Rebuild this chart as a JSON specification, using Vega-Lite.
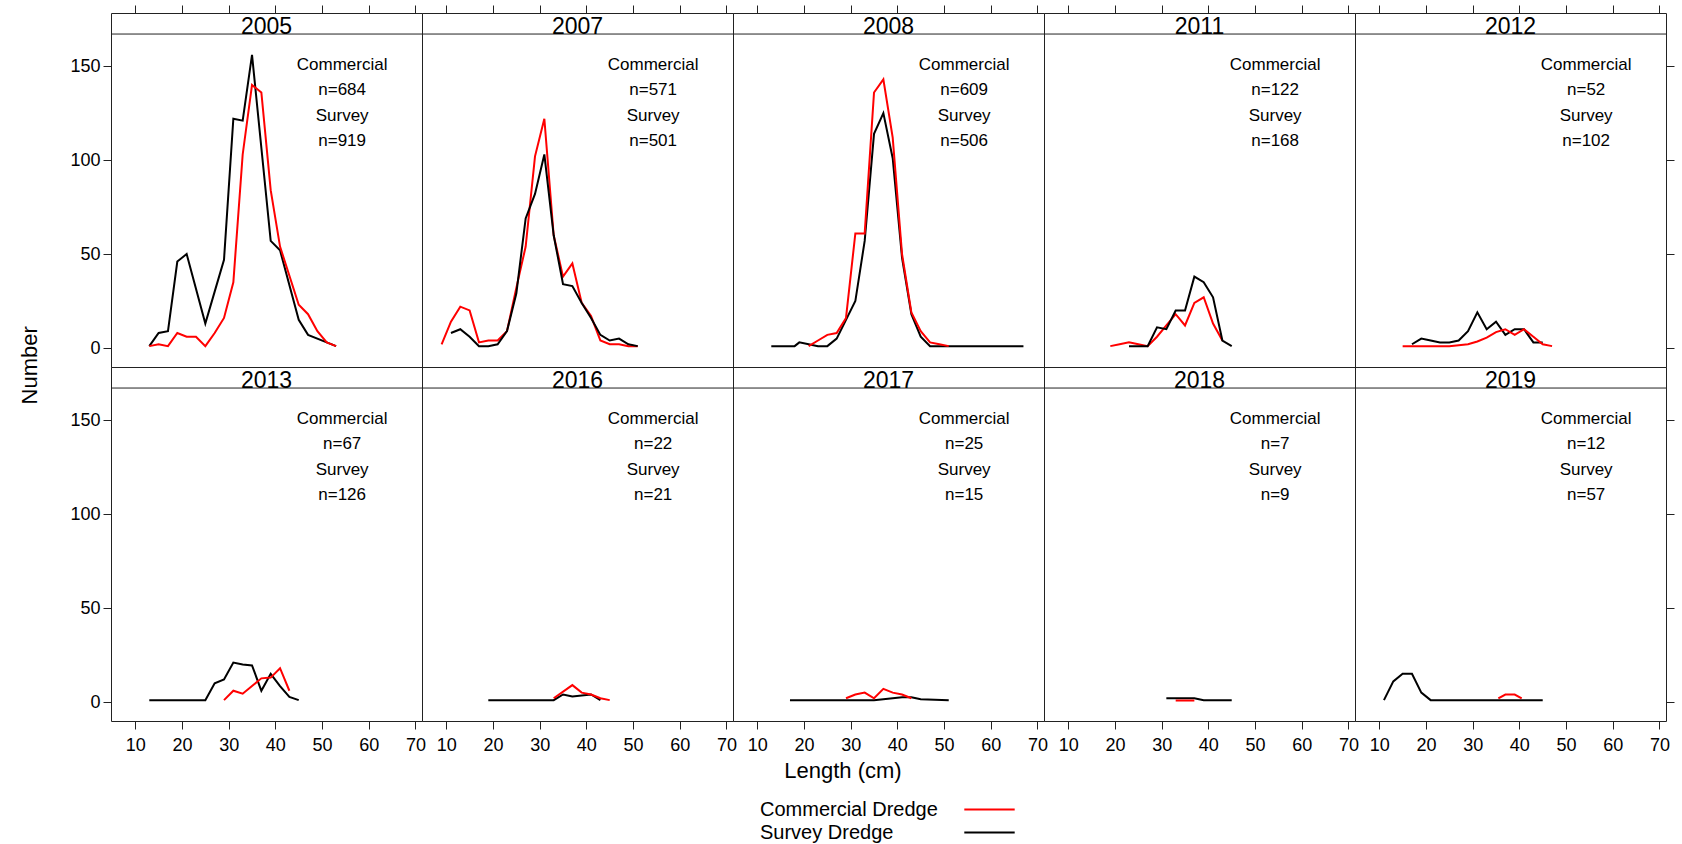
{
  "$schema": "https://vega.github.io/schema/vega-lite/v6.json",
  "background": "white",
  "padding": {"left": 18, "top": 4, "right": 5, "bottom": 0},
  "config": {
    "font": "Liberation Sans",
    "view": {"stroke": "#222222", "strokeWidth": 1},
    "axis": {"grid": false, "domain": false, "tickColor": "#222222", "labelColor": "black", "titleColor": "black", "titleFontWeight": "normal"},
    "legend": {"labelColor": "black"}
  },
  "data": {"values": [
      {"year": "2005", "commercialN": "n=684", "surveyN": "n=919"},
      {"year": "2007", "commercialN": "n=571", "surveyN": "n=501"},
      {"year": "2008", "commercialN": "n=609", "surveyN": "n=506"},
      {"year": "2011", "commercialN": "n=122", "surveyN": "n=168"},
      {"year": "2012", "commercialN": "n=52", "surveyN": "n=102"},
      {"year": "2013", "commercialN": "n=67", "surveyN": "n=126"},
      {"year": "2016", "commercialN": "n=22", "surveyN": "n=21"},
      {"year": "2017", "commercialN": "n=25", "surveyN": "n=15"},
      {"year": "2018", "commercialN": "n=7", "surveyN": "n=9"},
      {"year": "2019", "commercialN": "n=12", "surveyN": "n=57"},

      {"year": "2005", "gear": "Survey Dredge", "length": 13, "number": 1},
      {"year": "2005", "gear": "Survey Dredge", "length": 15, "number": 8},
      {"year": "2005", "gear": "Survey Dredge", "length": 17, "number": 9},
      {"year": "2005", "gear": "Survey Dredge", "length": 19, "number": 46},
      {"year": "2005", "gear": "Survey Dredge", "length": 21, "number": 50},
      {"year": "2005", "gear": "Survey Dredge", "length": 25, "number": 13},
      {"year": "2005", "gear": "Survey Dredge", "length": 27, "number": 30},
      {"year": "2005", "gear": "Survey Dredge", "length": 29, "number": 47},
      {"year": "2005", "gear": "Survey Dredge", "length": 31, "number": 122},
      {"year": "2005", "gear": "Survey Dredge", "length": 33, "number": 121},
      {"year": "2005", "gear": "Survey Dredge", "length": 35, "number": 156},
      {"year": "2005", "gear": "Survey Dredge", "length": 39, "number": 57},
      {"year": "2005", "gear": "Survey Dredge", "length": 41, "number": 52},
      {"year": "2005", "gear": "Survey Dredge", "length": 45, "number": 15},
      {"year": "2005", "gear": "Survey Dredge", "length": 47, "number": 7},
      {"year": "2005", "gear": "Survey Dredge", "length": 51, "number": 3},
      {"year": "2005", "gear": "Survey Dredge", "length": 53, "number": 1},
      {"year": "2005", "gear": "Commercial Dredge", "length": 13, "number": 1},
      {"year": "2005", "gear": "Commercial Dredge", "length": 15, "number": 2},
      {"year": "2005", "gear": "Commercial Dredge", "length": 17, "number": 1},
      {"year": "2005", "gear": "Commercial Dredge", "length": 19, "number": 8},
      {"year": "2005", "gear": "Commercial Dredge", "length": 21, "number": 6},
      {"year": "2005", "gear": "Commercial Dredge", "length": 23, "number": 6},
      {"year": "2005", "gear": "Commercial Dredge", "length": 25, "number": 1},
      {"year": "2005", "gear": "Commercial Dredge", "length": 27, "number": 8},
      {"year": "2005", "gear": "Commercial Dredge", "length": 29, "number": 16},
      {"year": "2005", "gear": "Commercial Dredge", "length": 31, "number": 35},
      {"year": "2005", "gear": "Commercial Dredge", "length": 33, "number": 103},
      {"year": "2005", "gear": "Commercial Dredge", "length": 35, "number": 140},
      {"year": "2005", "gear": "Commercial Dredge", "length": 37, "number": 136},
      {"year": "2005", "gear": "Commercial Dredge", "length": 39, "number": 84},
      {"year": "2005", "gear": "Commercial Dredge", "length": 41, "number": 54},
      {"year": "2005", "gear": "Commercial Dredge", "length": 45, "number": 23},
      {"year": "2005", "gear": "Commercial Dredge", "length": 47, "number": 18},
      {"year": "2005", "gear": "Commercial Dredge", "length": 49, "number": 9},
      {"year": "2005", "gear": "Commercial Dredge", "length": 51, "number": 3},
      {"year": "2005", "gear": "Commercial Dredge", "length": 53, "number": 1},

      {"year": "2007", "gear": "Commercial Dredge", "length": 9, "number": 2},
      {"year": "2007", "gear": "Commercial Dredge", "length": 11, "number": 14},
      {"year": "2007", "gear": "Commercial Dredge", "length": 13, "number": 22},
      {"year": "2007", "gear": "Commercial Dredge", "length": 15, "number": 20},
      {"year": "2007", "gear": "Commercial Dredge", "length": 17, "number": 3},
      {"year": "2007", "gear": "Commercial Dredge", "length": 19, "number": 4},
      {"year": "2007", "gear": "Commercial Dredge", "length": 21, "number": 4},
      {"year": "2007", "gear": "Commercial Dredge", "length": 23, "number": 9},
      {"year": "2007", "gear": "Commercial Dredge", "length": 25, "number": 32},
      {"year": "2007", "gear": "Commercial Dredge", "length": 27, "number": 54},
      {"year": "2007", "gear": "Commercial Dredge", "length": 29, "number": 102},
      {"year": "2007", "gear": "Commercial Dredge", "length": 31, "number": 122},
      {"year": "2007", "gear": "Commercial Dredge", "length": 33, "number": 60},
      {"year": "2007", "gear": "Commercial Dredge", "length": 35, "number": 38},
      {"year": "2007", "gear": "Commercial Dredge", "length": 37, "number": 45},
      {"year": "2007", "gear": "Commercial Dredge", "length": 39, "number": 24},
      {"year": "2007", "gear": "Commercial Dredge", "length": 41, "number": 17},
      {"year": "2007", "gear": "Commercial Dredge", "length": 43, "number": 4},
      {"year": "2007", "gear": "Commercial Dredge", "length": 45, "number": 2},
      {"year": "2007", "gear": "Commercial Dredge", "length": 47, "number": 2},
      {"year": "2007", "gear": "Commercial Dredge", "length": 49, "number": 1},
      {"year": "2007", "gear": "Commercial Dredge", "length": 51, "number": 1},
      {"year": "2007", "gear": "Survey Dredge", "length": 11, "number": 8},
      {"year": "2007", "gear": "Survey Dredge", "length": 13, "number": 10},
      {"year": "2007", "gear": "Survey Dredge", "length": 15, "number": 6},
      {"year": "2007", "gear": "Survey Dredge", "length": 17, "number": 1},
      {"year": "2007", "gear": "Survey Dredge", "length": 19, "number": 1},
      {"year": "2007", "gear": "Survey Dredge", "length": 21, "number": 2},
      {"year": "2007", "gear": "Survey Dredge", "length": 23, "number": 9},
      {"year": "2007", "gear": "Survey Dredge", "length": 25, "number": 29},
      {"year": "2007", "gear": "Survey Dredge", "length": 27, "number": 69},
      {"year": "2007", "gear": "Survey Dredge", "length": 29, "number": 82},
      {"year": "2007", "gear": "Survey Dredge", "length": 31, "number": 103},
      {"year": "2007", "gear": "Survey Dredge", "length": 33, "number": 60},
      {"year": "2007", "gear": "Survey Dredge", "length": 35, "number": 34},
      {"year": "2007", "gear": "Survey Dredge", "length": 37, "number": 33},
      {"year": "2007", "gear": "Survey Dredge", "length": 39, "number": 24},
      {"year": "2007", "gear": "Survey Dredge", "length": 41, "number": 16},
      {"year": "2007", "gear": "Survey Dredge", "length": 43, "number": 7},
      {"year": "2007", "gear": "Survey Dredge", "length": 45, "number": 4},
      {"year": "2007", "gear": "Survey Dredge", "length": 47, "number": 5},
      {"year": "2007", "gear": "Survey Dredge", "length": 49, "number": 2},
      {"year": "2007", "gear": "Survey Dredge", "length": 51, "number": 1},

      {"year": "2008", "gear": "Survey Dredge", "length": 13, "number": 1},
      {"year": "2008", "gear": "Survey Dredge", "length": 18, "number": 1},
      {"year": "2008", "gear": "Survey Dredge", "length": 19, "number": 3},
      {"year": "2008", "gear": "Survey Dredge", "length": 21, "number": 2},
      {"year": "2008", "gear": "Survey Dredge", "length": 23, "number": 1},
      {"year": "2008", "gear": "Survey Dredge", "length": 25, "number": 1},
      {"year": "2008", "gear": "Survey Dredge", "length": 27, "number": 5},
      {"year": "2008", "gear": "Survey Dredge", "length": 29, "number": 15},
      {"year": "2008", "gear": "Survey Dredge", "length": 31, "number": 25},
      {"year": "2008", "gear": "Survey Dredge", "length": 33, "number": 57},
      {"year": "2008", "gear": "Survey Dredge", "length": 35, "number": 114},
      {"year": "2008", "gear": "Survey Dredge", "length": 37, "number": 125},
      {"year": "2008", "gear": "Survey Dredge", "length": 39, "number": 101},
      {"year": "2008", "gear": "Survey Dredge", "length": 41, "number": 48},
      {"year": "2008", "gear": "Survey Dredge", "length": 43, "number": 18},
      {"year": "2008", "gear": "Survey Dredge", "length": 45, "number": 6},
      {"year": "2008", "gear": "Survey Dredge", "length": 47, "number": 1},
      {"year": "2008", "gear": "Survey Dredge", "length": 55, "number": 1},
      {"year": "2008", "gear": "Survey Dredge", "length": 67, "number": 1},
      {"year": "2008", "gear": "Commercial Dredge", "length": 21, "number": 1},
      {"year": "2008", "gear": "Commercial Dredge", "length": 23, "number": 4},
      {"year": "2008", "gear": "Commercial Dredge", "length": 25, "number": 7},
      {"year": "2008", "gear": "Commercial Dredge", "length": 27, "number": 8},
      {"year": "2008", "gear": "Commercial Dredge", "length": 29, "number": 16},
      {"year": "2008", "gear": "Commercial Dredge", "length": 31, "number": 61},
      {"year": "2008", "gear": "Commercial Dredge", "length": 33, "number": 61},
      {"year": "2008", "gear": "Commercial Dredge", "length": 35, "number": 136},
      {"year": "2008", "gear": "Commercial Dredge", "length": 37, "number": 143},
      {"year": "2008", "gear": "Commercial Dredge", "length": 39, "number": 112},
      {"year": "2008", "gear": "Commercial Dredge", "length": 41, "number": 50},
      {"year": "2008", "gear": "Commercial Dredge", "length": 43, "number": 19},
      {"year": "2008", "gear": "Commercial Dredge", "length": 45, "number": 9},
      {"year": "2008", "gear": "Commercial Dredge", "length": 47, "number": 3},
      {"year": "2008", "gear": "Commercial Dredge", "length": 49, "number": 2},
      {"year": "2008", "gear": "Commercial Dredge", "length": 51, "number": 1},

      {"year": "2011", "gear": "Commercial Dredge", "length": 19, "number": 1},
      {"year": "2011", "gear": "Commercial Dredge", "length": 21, "number": 2},
      {"year": "2011", "gear": "Commercial Dredge", "length": 23, "number": 3},
      {"year": "2011", "gear": "Commercial Dredge", "length": 25, "number": 2},
      {"year": "2011", "gear": "Commercial Dredge", "length": 27, "number": 1},
      {"year": "2011", "gear": "Commercial Dredge", "length": 29, "number": 6},
      {"year": "2011", "gear": "Commercial Dredge", "length": 31, "number": 12},
      {"year": "2011", "gear": "Commercial Dredge", "length": 33, "number": 18},
      {"year": "2011", "gear": "Commercial Dredge", "length": 35, "number": 12},
      {"year": "2011", "gear": "Commercial Dredge", "length": 37, "number": 24},
      {"year": "2011", "gear": "Commercial Dredge", "length": 39, "number": 27},
      {"year": "2011", "gear": "Commercial Dredge", "length": 41, "number": 13},
      {"year": "2011", "gear": "Commercial Dredge", "length": 43, "number": 4},
      {"year": "2011", "gear": "Survey Dredge", "length": 23, "number": 1},
      {"year": "2011", "gear": "Survey Dredge", "length": 27, "number": 1},
      {"year": "2011", "gear": "Survey Dredge", "length": 29, "number": 11},
      {"year": "2011", "gear": "Survey Dredge", "length": 31, "number": 10},
      {"year": "2011", "gear": "Survey Dredge", "length": 33, "number": 20},
      {"year": "2011", "gear": "Survey Dredge", "length": 35, "number": 20},
      {"year": "2011", "gear": "Survey Dredge", "length": 37, "number": 38},
      {"year": "2011", "gear": "Survey Dredge", "length": 39, "number": 35},
      {"year": "2011", "gear": "Survey Dredge", "length": 41, "number": 27},
      {"year": "2011", "gear": "Survey Dredge", "length": 43, "number": 4},
      {"year": "2011", "gear": "Survey Dredge", "length": 45, "number": 1},

      {"year": "2012", "gear": "Survey Dredge", "length": 17, "number": 2},
      {"year": "2012", "gear": "Survey Dredge", "length": 19, "number": 5},
      {"year": "2012", "gear": "Survey Dredge", "length": 21, "number": 4},
      {"year": "2012", "gear": "Survey Dredge", "length": 23, "number": 3},
      {"year": "2012", "gear": "Survey Dredge", "length": 25, "number": 3},
      {"year": "2012", "gear": "Survey Dredge", "length": 27, "number": 4},
      {"year": "2012", "gear": "Survey Dredge", "length": 29, "number": 9},
      {"year": "2012", "gear": "Survey Dredge", "length": 31, "number": 19},
      {"year": "2012", "gear": "Survey Dredge", "length": 33, "number": 10},
      {"year": "2012", "gear": "Survey Dredge", "length": 35, "number": 14},
      {"year": "2012", "gear": "Survey Dredge", "length": 37, "number": 7},
      {"year": "2012", "gear": "Survey Dredge", "length": 39, "number": 10},
      {"year": "2012", "gear": "Survey Dredge", "length": 41, "number": 10},
      {"year": "2012", "gear": "Survey Dredge", "length": 43, "number": 3},
      {"year": "2012", "gear": "Survey Dredge", "length": 45, "number": 3},
      {"year": "2012", "gear": "Commercial Dredge", "length": 15, "number": 1},
      {"year": "2012", "gear": "Commercial Dredge", "length": 25, "number": 1},
      {"year": "2012", "gear": "Commercial Dredge", "length": 27, "number": 1.5},
      {"year": "2012", "gear": "Commercial Dredge", "length": 29, "number": 2},
      {"year": "2012", "gear": "Commercial Dredge", "length": 31, "number": 3.5},
      {"year": "2012", "gear": "Commercial Dredge", "length": 33, "number": 5.5},
      {"year": "2012", "gear": "Commercial Dredge", "length": 35, "number": 8.5},
      {"year": "2012", "gear": "Commercial Dredge", "length": 37, "number": 10},
      {"year": "2012", "gear": "Commercial Dredge", "length": 39, "number": 7},
      {"year": "2012", "gear": "Commercial Dredge", "length": 41, "number": 10},
      {"year": "2012", "gear": "Commercial Dredge", "length": 43, "number": 6},
      {"year": "2012", "gear": "Commercial Dredge", "length": 45, "number": 2},
      {"year": "2012", "gear": "Commercial Dredge", "length": 47, "number": 1},

      {"year": "2013", "gear": "Survey Dredge", "length": 13, "number": 1},
      {"year": "2013", "gear": "Survey Dredge", "length": 25, "number": 1},
      {"year": "2013", "gear": "Survey Dredge", "length": 27, "number": 10},
      {"year": "2013", "gear": "Survey Dredge", "length": 29, "number": 12},
      {"year": "2013", "gear": "Survey Dredge", "length": 31, "number": 21},
      {"year": "2013", "gear": "Survey Dredge", "length": 33, "number": 20},
      {"year": "2013", "gear": "Survey Dredge", "length": 35, "number": 19.5},
      {"year": "2013", "gear": "Survey Dredge", "length": 37, "number": 6},
      {"year": "2013", "gear": "Survey Dredge", "length": 39, "number": 15},
      {"year": "2013", "gear": "Survey Dredge", "length": 41, "number": 8.5},
      {"year": "2013", "gear": "Survey Dredge", "length": 43, "number": 2.7},
      {"year": "2013", "gear": "Survey Dredge", "length": 45, "number": 1},
      {"year": "2013", "gear": "Commercial Dredge", "length": 29, "number": 1},
      {"year": "2013", "gear": "Commercial Dredge", "length": 31, "number": 6},
      {"year": "2013", "gear": "Commercial Dredge", "length": 33, "number": 4.4},
      {"year": "2013", "gear": "Commercial Dredge", "length": 35, "number": 8.5},
      {"year": "2013", "gear": "Commercial Dredge", "length": 37, "number": 12.6},
      {"year": "2013", "gear": "Commercial Dredge", "length": 39, "number": 13},
      {"year": "2013", "gear": "Commercial Dredge", "length": 41, "number": 18},
      {"year": "2013", "gear": "Commercial Dredge", "length": 43, "number": 6},

      {"year": "2016", "gear": "Survey Dredge", "length": 19, "number": 1},
      {"year": "2016", "gear": "Survey Dredge", "length": 33, "number": 1},
      {"year": "2016", "gear": "Survey Dredge", "length": 35, "number": 4},
      {"year": "2016", "gear": "Survey Dredge", "length": 37, "number": 3},
      {"year": "2016", "gear": "Survey Dredge", "length": 41, "number": 4},
      {"year": "2016", "gear": "Survey Dredge", "length": 43, "number": 1},
      {"year": "2016", "gear": "Commercial Dredge", "length": 33, "number": 2},
      {"year": "2016", "gear": "Commercial Dredge", "length": 37, "number": 9},
      {"year": "2016", "gear": "Commercial Dredge", "length": 39, "number": 5},
      {"year": "2016", "gear": "Commercial Dredge", "length": 41, "number": 4},
      {"year": "2016", "gear": "Commercial Dredge", "length": 43, "number": 2},
      {"year": "2016", "gear": "Commercial Dredge", "length": 45, "number": 1},

      {"year": "2017", "gear": "Survey Dredge", "length": 17, "number": 1},
      {"year": "2017", "gear": "Survey Dredge", "length": 35, "number": 1},
      {"year": "2017", "gear": "Survey Dredge", "length": 41, "number": 2.5},
      {"year": "2017", "gear": "Survey Dredge", "length": 43, "number": 2.5},
      {"year": "2017", "gear": "Survey Dredge", "length": 45, "number": 1.5},
      {"year": "2017", "gear": "Survey Dredge", "length": 51, "number": 1},
      {"year": "2017", "gear": "Commercial Dredge", "length": 29, "number": 2},
      {"year": "2017", "gear": "Commercial Dredge", "length": 31, "number": 4},
      {"year": "2017", "gear": "Commercial Dredge", "length": 33, "number": 5},
      {"year": "2017", "gear": "Commercial Dredge", "length": 35, "number": 2},
      {"year": "2017", "gear": "Commercial Dredge", "length": 37, "number": 7},
      {"year": "2017", "gear": "Commercial Dredge", "length": 39, "number": 5},
      {"year": "2017", "gear": "Commercial Dredge", "length": 41, "number": 4},
      {"year": "2017", "gear": "Commercial Dredge", "length": 43, "number": 2},

      {"year": "2018", "gear": "Survey Dredge", "length": 31, "number": 2},
      {"year": "2018", "gear": "Survey Dredge", "length": 37, "number": 2},
      {"year": "2018", "gear": "Survey Dredge", "length": 39, "number": 1},
      {"year": "2018", "gear": "Survey Dredge", "length": 45, "number": 1},
      {"year": "2018", "gear": "Commercial Dredge", "length": 33, "number": 0.8},
      {"year": "2018", "gear": "Commercial Dredge", "length": 35, "number": 0.8},
      {"year": "2018", "gear": "Commercial Dredge", "length": 37, "number": 0.8},

      {"year": "2019", "gear": "Survey Dredge", "length": 11, "number": 1},
      {"year": "2019", "gear": "Survey Dredge", "length": 13, "number": 11},
      {"year": "2019", "gear": "Survey Dredge", "length": 15, "number": 15},
      {"year": "2019", "gear": "Survey Dredge", "length": 17, "number": 15},
      {"year": "2019", "gear": "Survey Dredge", "length": 19, "number": 5},
      {"year": "2019", "gear": "Survey Dredge", "length": 21, "number": 1},
      {"year": "2019", "gear": "Survey Dredge", "length": 45, "number": 1},
      {"year": "2019", "gear": "Commercial Dredge", "length": 35.5, "number": 2},
      {"year": "2019", "gear": "Commercial Dredge", "length": 37, "number": 4},
      {"year": "2019", "gear": "Commercial Dredge", "length": 39, "number": 4},
      {"year": "2019", "gear": "Commercial Dredge", "length": 40.5, "number": 2}
  ]},
  "facet": {"field": "year", "type": "ordinal",
    "header": {"labels": false, "labelExpr": "''", "labelFontSize": 1, "labelPadding": 0, "title": "Length (cm)", "titleOrient": "bottom", "titleFontSize": 22, "titleFontWeight": "normal", "titleColor": "black", "titlePadding": 7}},
  "columns": 5,
  "spacing": 0,
  "bounds": "flush",
  "spec": {
    "width": 311,
    "height": 354,
    "resolve": {"axis": {"x": "independent", "y": "independent"}},
    "layer": [
      {
        "transform": [{"filter": "datum.gear != null"}],
        "mark": {"type": "line", "strokeWidth": 2, "clip": true},
        "encoding": {
          "x": {"field": "length", "type": "quantitative",
            "scale": {"domain": [4.8, 71.4], "nice": false, "zero": false},
            "axis": {"orient": "bottom", "values": [10, 20, 30, 40, 50, 60, 70], "title": null, "labelFontSize": 18, "tickSize": 8, "labelPadding": 7, "labelFlush": false, "labelOverlap": false}},
          "y": {"field": "number", "type": "quantitative",
            "scale": {"domain": [-10.1, 178.3], "nice": false, "zero": false},
            "axis": {"orient": "left", "values": [0, 50, 100, 150], "title": null, "labelFontSize": 18, "tickSize": 8, "labelPadding": 3}},
          "color": {"field": "gear", "type": "nominal",
            "scale": {"domain": ["Commercial Dredge", "Survey Dredge"], "range": ["#ff0000", "#000000"]},
            "legend": {"title": null, "orient": "none", "legendX": 867, "legendY": 785, "direction": "vertical", "symbolType": "M-2.4,0H2.4", "symbolStrokeWidth": 2, "symbolSize": 441, "labelFontSize": 20, "labelOffset": -241, "labelLimit": 400, "rowPadding": 1}}
        }
      },
      {
        "transform": [{"filter": "datum.commercialN != null"}],
        "mark": {"type": "rule", "color": "#222222", "strokeWidth": 1},
        "encoding": {"y": {"datum": 167.1, "type": "quantitative", "axis": null}}
      },
      {
        "transform": [{"filter": "datum.commercialN != null"}],
        "mark": {"type": "text", "fontSize": 23, "baseline": "alphabetic", "align": "center", "color": "black"},
        "encoding": {
          "text": {"field": "year"},
          "x": {"datum": 38.1, "type": "quantitative", "axis": {"orient": "top", "values": [10, 20, 30, 40, 50, 60, 70], "labels": false, "title": null, "tickSize": 8}},
          "y": {"datum": 167.3, "type": "quantitative", "axis": {"orient": "right", "values": [0, 50, 100, 150], "labels": false, "title": null, "tickSize": 8}}
        }
      },
      {
        "transform": [{"filter": "datum.commercialN != null && datum.year == '2005'"}],
        "mark": {"type": "text", "fontSize": 22, "angle": 270, "baseline": "middle", "align": "center", "color": "black"},
        "encoding": {
          "text": {"value": "Number"},
          "x": {"datum": -12.5, "type": "quantitative", "axis": null},
          "y": {"datum": -9.2, "type": "quantitative", "axis": null}
        }
      },
      {
        "transform": [{"filter": "datum.commercialN != null"}],
        "layer": [
          {"mark": {"type": "text", "fontSize": 17, "baseline": "middle", "color": "black"},
           "encoding": {"text": {"value": "Commercial"}, "x": {"datum": 54.3, "type": "quantitative", "axis": null}, "y": {"datum": 150.8, "type": "quantitative", "axis": null}}},
          {"mark": {"type": "text", "fontSize": 17, "baseline": "middle", "color": "black"},
           "encoding": {"text": {"field": "commercialN"}, "x": {"datum": 54.3, "type": "quantitative", "axis": null}, "y": {"datum": 137.2, "type": "quantitative", "axis": null}}},
          {"mark": {"type": "text", "fontSize": 17, "baseline": "middle", "color": "black"},
           "encoding": {"text": {"value": "Survey"}, "x": {"datum": 54.3, "type": "quantitative", "axis": null}, "y": {"datum": 123.7, "type": "quantitative", "axis": null}}},
          {"mark": {"type": "text", "fontSize": 17, "baseline": "middle", "color": "black"},
           "encoding": {"text": {"field": "surveyN"}, "x": {"datum": 54.3, "type": "quantitative", "axis": null}, "y": {"datum": 110.3, "type": "quantitative", "axis": null}}}
        ]
      }
    ]
  }
}
